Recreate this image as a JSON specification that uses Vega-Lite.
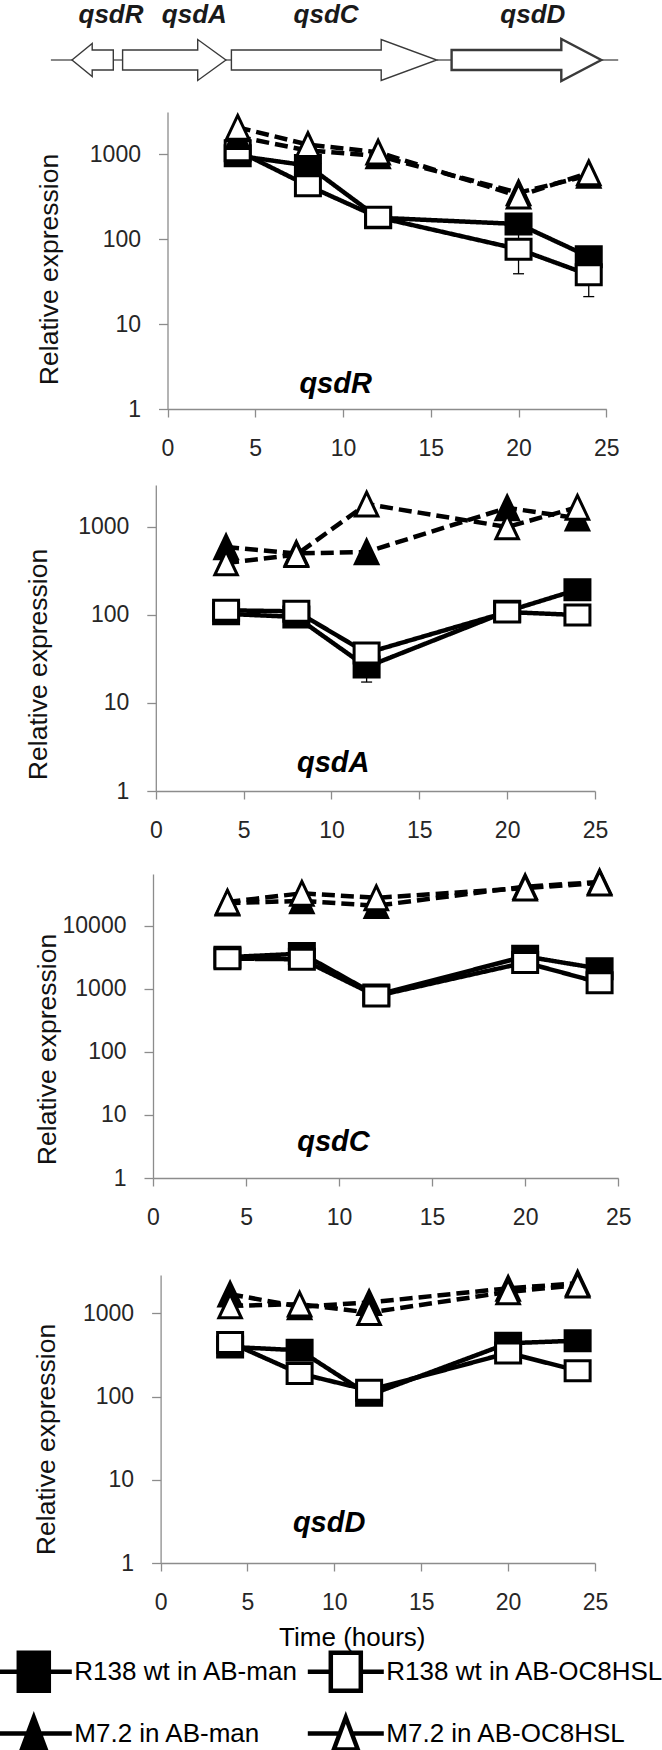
{
  "$schema": "https://vega.github.io/schema/vega-lite/v6.json",
  "padding": 0,
  "background": "white",
  "config": {
    "view": {"stroke": null},
    "axis": {"grid": false, "domainColor": "#8c8c8c", "domainWidth": 1.3, "tickColor": "#8c8c8c", "tickWidth": 1.3, "labelColor": "#262626", "labelFont": "Liberation Sans", "titleFont": "Liberation Sans", "titleFontWeight": "normal", "titleColor": "#111111", "labelFlush": false, "labelOverlap": false},
    "axisX": {"tickSize": 8, "labelPadding": 20.8, "labelFontSize": 23},
    "axisY": {"tickSize": 9, "labelPadding": 18, "labelFontSize": 23, "titleFontSize": 26.5, "titlePadding": 0}
  },
  "datasets": {
    "spacers": [
      {"from": 50.6, "to": 71.7}, {"from": 113, "to": 122.3}, {"from": 225.6, "to": 231.1}, {"from": 436.5, "to": 451.3}, {"from": 601, "to": 617.9}
    ],
    "genes": [
      {"gene": "qsdR", "i": 0, "pos": 71.7, "lane": 0}, {"gene": "qsdR", "i": 1, "pos": 91.9, "lane": 16.5}, {"gene": "qsdR", "i": 2, "pos": 91.9, "lane": 10}, {"gene": "qsdR", "i": 3, "pos": 113, "lane": 10}, {"gene": "qsdR", "i": 4, "pos": 113, "lane": -10}, {"gene": "qsdR", "i": 5, "pos": 91.9, "lane": -10}, {"gene": "qsdR", "i": 6, "pos": 91.9, "lane": -16.5}, {"gene": "qsdR", "i": 7, "pos": 71.7, "lane": 0}, {"gene": "qsdR", "i": 8, "pos": 91.9, "lane": 16.5},
      {"gene": "qsdA", "i": 0, "pos": 122.3, "lane": 10}, {"gene": "qsdA", "i": 1, "pos": 197.4, "lane": 10}, {"gene": "qsdA", "i": 2, "pos": 197.4, "lane": 20.5}, {"gene": "qsdA", "i": 3, "pos": 225.6, "lane": 0}, {"gene": "qsdA", "i": 4, "pos": 197.4, "lane": -20.5}, {"gene": "qsdA", "i": 5, "pos": 197.4, "lane": -10}, {"gene": "qsdA", "i": 6, "pos": 122.3, "lane": -10}, {"gene": "qsdA", "i": 7, "pos": 122.3, "lane": 10}, {"gene": "qsdA", "i": 8, "pos": 197.4, "lane": 10},
      {"gene": "qsdC", "i": 0, "pos": 231.1, "lane": 10}, {"gene": "qsdC", "i": 1, "pos": 380.9, "lane": 10}, {"gene": "qsdC", "i": 2, "pos": 380.9, "lane": 20.5}, {"gene": "qsdC", "i": 3, "pos": 436.5, "lane": 0}, {"gene": "qsdC", "i": 4, "pos": 380.9, "lane": -20.5}, {"gene": "qsdC", "i": 5, "pos": 380.9, "lane": -10}, {"gene": "qsdC", "i": 6, "pos": 231.1, "lane": -10}, {"gene": "qsdC", "i": 7, "pos": 231.1, "lane": 10}, {"gene": "qsdC", "i": 8, "pos": 380.9, "lane": 10},
      {"gene": "qsdD", "i": 0, "pos": 451.3, "lane": 10}, {"gene": "qsdD", "i": 1, "pos": 561, "lane": 10}, {"gene": "qsdD", "i": 2, "pos": 561, "lane": 21}, {"gene": "qsdD", "i": 3, "pos": 601, "lane": 0}, {"gene": "qsdD", "i": 4, "pos": 561, "lane": -21}, {"gene": "qsdD", "i": 5, "pos": 561, "lane": -10}, {"gene": "qsdD", "i": 6, "pos": 451.3, "lane": -10}, {"gene": "qsdD", "i": 7, "pos": 451.3, "lane": 10}, {"gene": "qsdD", "i": 8, "pos": 561, "lane": 10}
    ],
    "genelabels": [
      {"gene": "qsdR", "pos": 110.7, "lane": 37}, {"gene": "qsdA", "pos": 194, "lane": 37}, {"gene": "qsdC", "pos": 325.8, "lane": 37}, {"gene": "qsdD", "pos": 532.5, "lane": 37}
    ],
    "plabels": [
      {"panel": "qsdR", "gene": "qsdR", "time": 9.58, "value": 1.97},
      {"panel": "qsdA", "gene": "qsdA", "time": 10.1, "value": 2.08},
      {"panel": "qsdC", "gene": "qsdC", "time": 9.7, "value": 3.72},
      {"panel": "qsdD", "gene": "qsdD", "time": 9.7, "value": 3.0}
    ],
    "expr": [
      {"panel": "qsdR", "series": "R138 wt in AB-man", "strain": "R138 wt", "medium": "AB-man", "time": 4, "value": 955},
      {"panel": "qsdR", "series": "R138 wt in AB-man", "strain": "R138 wt", "medium": "AB-man", "time": 8, "value": 730},
      {"panel": "qsdR", "series": "R138 wt in AB-man", "strain": "R138 wt", "medium": "AB-man", "time": 12, "value": 178},
      {"panel": "qsdR", "series": "R138 wt in AB-man", "strain": "R138 wt", "medium": "AB-man", "time": 20, "value": 150},
      {"panel": "qsdR", "series": "R138 wt in AB-man", "strain": "R138 wt", "medium": "AB-man", "time": 24, "value": 62},
      {"panel": "qsdR", "series": "R138 wt in AB-OC8HSL", "strain": "R138 wt", "medium": "AB-OC8HSL", "time": 4, "value": 1090},
      {"panel": "qsdR", "series": "R138 wt in AB-OC8HSL", "strain": "R138 wt", "medium": "AB-OC8HSL", "time": 8, "value": 424},
      {"panel": "qsdR", "series": "R138 wt in AB-OC8HSL", "strain": "R138 wt", "medium": "AB-OC8HSL", "time": 12, "value": 180},
      {"panel": "qsdR", "series": "R138 wt in AB-OC8HSL", "strain": "R138 wt", "medium": "AB-OC8HSL", "time": 20, "value": 76, "lo": 39, "hi": 113},
      {"panel": "qsdR", "series": "R138 wt in AB-OC8HSL", "strain": "R138 wt", "medium": "AB-OC8HSL", "time": 24, "value": 38, "lo": 21, "hi": 55},
      {"panel": "qsdR", "series": "M7.2 in AB-man", "strain": "M7.2", "medium": "AB-man", "time": 4, "value": 1600},
      {"panel": "qsdR", "series": "M7.2 in AB-man", "strain": "M7.2", "medium": "AB-man", "time": 8, "value": 1100},
      {"panel": "qsdR", "series": "M7.2 in AB-man", "strain": "M7.2", "medium": "AB-man", "time": 12, "value": 950},
      {"panel": "qsdR", "series": "M7.2 in AB-man", "strain": "M7.2", "medium": "AB-man", "time": 20, "value": 350},
      {"panel": "qsdR", "series": "M7.2 in AB-man", "strain": "M7.2", "medium": "AB-man", "time": 24, "value": 560},
      {"panel": "qsdR", "series": "M7.2 in AB-OC8HSL", "strain": "M7.2", "medium": "AB-OC8HSL", "time": 4, "value": 2060},
      {"panel": "qsdR", "series": "M7.2 in AB-OC8HSL", "strain": "M7.2", "medium": "AB-OC8HSL", "time": 8, "value": 1290},
      {"panel": "qsdR", "series": "M7.2 in AB-OC8HSL", "strain": "M7.2", "medium": "AB-OC8HSL", "time": 12, "value": 1050},
      {"panel": "qsdR", "series": "M7.2 in AB-OC8HSL", "strain": "M7.2", "medium": "AB-OC8HSL", "time": 20, "value": 320},
      {"panel": "qsdR", "series": "M7.2 in AB-OC8HSL", "strain": "M7.2", "medium": "AB-OC8HSL", "time": 24, "value": 600},

      {"panel": "qsdA", "series": "R138 wt in AB-man", "strain": "R138 wt", "medium": "AB-man", "time": 4, "value": 103},
      {"panel": "qsdA", "series": "R138 wt in AB-man", "strain": "R138 wt", "medium": "AB-man", "time": 8, "value": 95},
      {"panel": "qsdA", "series": "R138 wt in AB-man", "strain": "R138 wt", "medium": "AB-man", "time": 12, "value": 25.7, "lo": 17.3, "hi": 34},
      {"panel": "qsdA", "series": "R138 wt in AB-man", "strain": "R138 wt", "medium": "AB-man", "time": 20, "value": 110},
      {"panel": "qsdA", "series": "R138 wt in AB-man", "strain": "R138 wt", "medium": "AB-man", "time": 24, "value": 194},
      {"panel": "qsdA", "series": "R138 wt in AB-OC8HSL", "strain": "R138 wt", "medium": "AB-OC8HSL", "time": 4, "value": 113},
      {"panel": "qsdA", "series": "R138 wt in AB-OC8HSL", "strain": "R138 wt", "medium": "AB-OC8HSL", "time": 8, "value": 110},
      {"panel": "qsdA", "series": "R138 wt in AB-OC8HSL", "strain": "R138 wt", "medium": "AB-OC8HSL", "time": 12, "value": 37},
      {"panel": "qsdA", "series": "R138 wt in AB-OC8HSL", "strain": "R138 wt", "medium": "AB-OC8HSL", "time": 20, "value": 108},
      {"panel": "qsdA", "series": "R138 wt in AB-OC8HSL", "strain": "R138 wt", "medium": "AB-OC8HSL", "time": 24, "value": 100},
      {"panel": "qsdA", "series": "M7.2 in AB-man", "strain": "M7.2", "medium": "AB-man", "time": 4, "value": 593},
      {"panel": "qsdA", "series": "M7.2 in AB-man", "strain": "M7.2", "medium": "AB-man", "time": 8, "value": 500},
      {"panel": "qsdA", "series": "M7.2 in AB-man", "strain": "M7.2", "medium": "AB-man", "time": 12, "value": 520},
      {"panel": "qsdA", "series": "M7.2 in AB-man", "strain": "M7.2", "medium": "AB-man", "time": 20, "value": 1650},
      {"panel": "qsdA", "series": "M7.2 in AB-man", "strain": "M7.2", "medium": "AB-man", "time": 24, "value": 1260},
      {"panel": "qsdA", "series": "M7.2 in AB-OC8HSL", "strain": "M7.2", "medium": "AB-OC8HSL", "time": 4, "value": 390},
      {"panel": "qsdA", "series": "M7.2 in AB-OC8HSL", "strain": "M7.2", "medium": "AB-OC8HSL", "time": 8, "value": 484},
      {"panel": "qsdA", "series": "M7.2 in AB-OC8HSL", "strain": "M7.2", "medium": "AB-OC8HSL", "time": 12, "value": 1820},
      {"panel": "qsdA", "series": "M7.2 in AB-OC8HSL", "strain": "M7.2", "medium": "AB-OC8HSL", "time": 20, "value": 1000},
      {"panel": "qsdA", "series": "M7.2 in AB-OC8HSL", "strain": "M7.2", "medium": "AB-OC8HSL", "time": 24, "value": 1675},

      {"panel": "qsdC", "series": "R138 wt in AB-man", "strain": "R138 wt", "medium": "AB-man", "time": 4, "value": 3200},
      {"panel": "qsdC", "series": "R138 wt in AB-man", "strain": "R138 wt", "medium": "AB-man", "time": 8, "value": 3640},
      {"panel": "qsdC", "series": "R138 wt in AB-man", "strain": "R138 wt", "medium": "AB-man", "time": 12, "value": 800},
      {"panel": "qsdC", "series": "R138 wt in AB-man", "strain": "R138 wt", "medium": "AB-man", "time": 20, "value": 3300},
      {"panel": "qsdC", "series": "R138 wt in AB-man", "strain": "R138 wt", "medium": "AB-man", "time": 24, "value": 2100},
      {"panel": "qsdC", "series": "R138 wt in AB-OC8HSL", "strain": "R138 wt", "medium": "AB-OC8HSL", "time": 4, "value": 3030},
      {"panel": "qsdC", "series": "R138 wt in AB-OC8HSL", "strain": "R138 wt", "medium": "AB-OC8HSL", "time": 8, "value": 2960},
      {"panel": "qsdC", "series": "R138 wt in AB-OC8HSL", "strain": "R138 wt", "medium": "AB-OC8HSL", "time": 12, "value": 776},
      {"panel": "qsdC", "series": "R138 wt in AB-OC8HSL", "strain": "R138 wt", "medium": "AB-OC8HSL", "time": 20, "value": 2630},
      {"panel": "qsdC", "series": "R138 wt in AB-OC8HSL", "strain": "R138 wt", "medium": "AB-OC8HSL", "time": 24, "value": 1260},
      {"panel": "qsdC", "series": "M7.2 in AB-man", "strain": "M7.2", "medium": "AB-man", "time": 4, "value": 23000},
      {"panel": "qsdC", "series": "M7.2 in AB-man", "strain": "M7.2", "medium": "AB-man", "time": 8, "value": 25000},
      {"panel": "qsdC", "series": "M7.2 in AB-man", "strain": "M7.2", "medium": "AB-man", "time": 12, "value": 21000},
      {"panel": "qsdC", "series": "M7.2 in AB-man", "strain": "M7.2", "medium": "AB-man", "time": 20, "value": 42000},
      {"panel": "qsdC", "series": "M7.2 in AB-man", "strain": "M7.2", "medium": "AB-man", "time": 24, "value": 50000},
      {"panel": "qsdC", "series": "M7.2 in AB-OC8HSL", "strain": "M7.2", "medium": "AB-OC8HSL", "time": 4, "value": 24000},
      {"panel": "qsdC", "series": "M7.2 in AB-OC8HSL", "strain": "M7.2", "medium": "AB-OC8HSL", "time": 8, "value": 33000},
      {"panel": "qsdC", "series": "M7.2 in AB-OC8HSL", "strain": "M7.2", "medium": "AB-OC8HSL", "time": 12, "value": 28000},
      {"panel": "qsdC", "series": "M7.2 in AB-OC8HSL", "strain": "M7.2", "medium": "AB-OC8HSL", "time": 20, "value": 40000},
      {"panel": "qsdC", "series": "M7.2 in AB-OC8HSL", "strain": "M7.2", "medium": "AB-OC8HSL", "time": 24, "value": 48000},

      {"panel": "qsdD", "series": "R138 wt in AB-man", "strain": "R138 wt", "medium": "AB-man", "time": 4, "value": 395},
      {"panel": "qsdD", "series": "R138 wt in AB-man", "strain": "R138 wt", "medium": "AB-man", "time": 8, "value": 360},
      {"panel": "qsdD", "series": "R138 wt in AB-man", "strain": "R138 wt", "medium": "AB-man", "time": 12, "value": 104},
      {"panel": "qsdD", "series": "R138 wt in AB-man", "strain": "R138 wt", "medium": "AB-man", "time": 20, "value": 437},
      {"panel": "qsdD", "series": "R138 wt in AB-man", "strain": "R138 wt", "medium": "AB-man", "time": 24, "value": 470},
      {"panel": "qsdD", "series": "R138 wt in AB-OC8HSL", "strain": "R138 wt", "medium": "AB-OC8HSL", "time": 4, "value": 446},
      {"panel": "qsdD", "series": "R138 wt in AB-OC8HSL", "strain": "R138 wt", "medium": "AB-OC8HSL", "time": 8, "value": 189},
      {"panel": "qsdD", "series": "R138 wt in AB-OC8HSL", "strain": "R138 wt", "medium": "AB-OC8HSL", "time": 12, "value": 119},
      {"panel": "qsdD", "series": "R138 wt in AB-OC8HSL", "strain": "R138 wt", "medium": "AB-OC8HSL", "time": 20, "value": 334},
      {"panel": "qsdD", "series": "R138 wt in AB-OC8HSL", "strain": "R138 wt", "medium": "AB-OC8HSL", "time": 24, "value": 205},
      {"panel": "qsdD", "series": "M7.2 in AB-man", "strain": "M7.2", "medium": "AB-man", "time": 4, "value": 1700},
      {"panel": "qsdD", "series": "M7.2 in AB-man", "strain": "M7.2", "medium": "AB-man", "time": 8, "value": 1200},
      {"panel": "qsdD", "series": "M7.2 in AB-man", "strain": "M7.2", "medium": "AB-man", "time": 12, "value": 1350},
      {"panel": "qsdD", "series": "M7.2 in AB-man", "strain": "M7.2", "medium": "AB-man", "time": 20, "value": 2000},
      {"panel": "qsdD", "series": "M7.2 in AB-man", "strain": "M7.2", "medium": "AB-man", "time": 24, "value": 2300},
      {"panel": "qsdD", "series": "M7.2 in AB-OC8HSL", "strain": "M7.2", "medium": "AB-OC8HSL", "time": 4, "value": 1230},
      {"panel": "qsdD", "series": "M7.2 in AB-OC8HSL", "strain": "M7.2", "medium": "AB-OC8HSL", "time": 8, "value": 1290},
      {"panel": "qsdD", "series": "M7.2 in AB-OC8HSL", "strain": "M7.2", "medium": "AB-OC8HSL", "time": 12, "value": 1020},
      {"panel": "qsdD", "series": "M7.2 in AB-OC8HSL", "strain": "M7.2", "medium": "AB-OC8HSL", "time": 20, "value": 1810},
      {"panel": "qsdD", "series": "M7.2 in AB-OC8HSL", "strain": "M7.2", "medium": "AB-OC8HSL", "time": 24, "value": 2180}
    ]
  },
  "spacing": 35,
  "vconcat": [
    {
      "spacing": 21,
      "vconcat": [
        {
          "spacing": 24,
          "vconcat": [
            {
              "spacing": 9,
              "vconcat": [
                {
                  "width": 465,
                  "height": 100,
                  "layer": [
                    {
                      "data": {"name": "spacers"},
                      "mark": {"type": "rule", "color": "#555555", "strokeWidth": 1.4},
                      "encoding": {
                        "x": {"field": "from", "type": "quantitative", "scale": {"domain": [152.7, 617.7], "nice": false, "zero": false}, "axis": null},
                        "x2": {"field": "to"},
                        "y": {"datum": 0, "type": "quantitative", "scale": {"domain": [-40, 60], "nice": false, "zero": false}, "axis": null}
                      }
                    },
                    {
                      "data": {"name": "genes"},
                      "mark": {"type": "line", "color": "#3a3a3a", "strokeJoin": "miter"},
                      "encoding": {
                        "x": {"field": "pos", "type": "quantitative"},
                        "y": {"field": "lane", "type": "quantitative"},
                        "detail": {"field": "gene"},
                        "order": {"field": "i"},
                        "strokeWidth": {"condition": {"test": "datum.gene === 'qsdD'", "value": 2.4}, "value": 1.4}
                      }
                    },
                    {
                      "data": {"name": "genelabels"},
                      "mark": {"type": "text", "font": "Liberation Sans", "fontSize": 26, "fontStyle": "italic", "fontWeight": "bold", "baseline": "alphabetic", "align": "center", "color": "#1a1a1a"},
                      "encoding": {
                        "x": {"field": "pos", "type": "quantitative"},
                        "y": {"field": "lane", "type": "quantitative"},
                        "text": {"field": "gene"}
                      }
                    }
                  ]
                },
                {
                  "width": 454,
                  "height": 297,
                  "layer": [
                    {
                      "data": {"name": "expr"},
                      "transform": [{"filter": "datum.panel === 'qsdR'"}],
                      "mark": {"type": "line", "strokeWidth": 4.5, "color": "black"},
                      "encoding": {
                        "x": {"field": "time", "type": "quantitative", "scale": {"domain": [0, 25], "range": [14.5, 453.3], "nice": false, "zero": false}, "axis": {"values": [0, 5, 10, 15, 20, 25], "title": null}},
                        "y": {"field": "value", "type": "quantitative", "scale": {"type": "log", "domain": [1, 3120], "nice": false}, "axis": {"values": [1, 10, 100, 1000], "format": "d", "title": "Relative expression", "offset": -14.5, "minExtent": 104, "maxExtent": 104, "titleY": 157}},
                        "detail": {"field": "series"},
                        "strokeDash": {"field": "strain", "type": "nominal", "scale": {"domain": ["R138 wt", "M7.2"], "range": [[1, 0], [13, 6]]}, "legend": null}
                      }
                    },
                    {
                      "data": {"name": "expr"},
                      "transform": [{"filter": "datum.panel === 'qsdR' && isValid(datum.lo)"}],
                      "mark": {"type": "rule", "strokeWidth": 1.3, "color": "black"},
                      "encoding": {
                        "x": {"field": "time", "type": "quantitative"},
                        "y": {"field": "lo", "type": "quantitative"},
                        "y2": {"field": "hi"}
                      }
                    },
                    {
                      "data": {"name": "expr"},
                      "transform": [{"filter": "datum.panel === 'qsdR' && isValid(datum.lo)"}],
                      "mark": {"type": "tick", "orient": "horizontal", "size": 11, "thickness": 1.3, "color": "black", "opacity": 1},
                      "encoding": {
                        "x": {"field": "time", "type": "quantitative"},
                        "y": {"field": "lo", "type": "quantitative"}
                      }
                    },
                    {
                      "data": {"name": "expr"},
                      "transform": [{"filter": "datum.panel === 'qsdR' && datum.strain === 'R138 wt'"}],
                      "mark": {"type": "point", "shape": "M-1,-0.8H1V0.8H-1Z", "filled": true, "stroke": "black", "strokeWidth": 3, "opacity": 1, "size": 625},
                      "encoding": {
                        "x": {"field": "time", "type": "quantitative"},
                        "y": {"field": "value", "type": "quantitative"},
                        "color": {"field": "medium", "type": "nominal", "scale": {"domain": ["AB-man", "AB-OC8HSL"], "range": ["black", "white"]}, "legend": null}
                      }
                    },
                    {
                      "data": {"name": "expr"},
                      "transform": [{"filter": "datum.panel === 'qsdR' && datum.strain === 'M7.2'"}],
                      "mark": {"type": "point", "shape": "M0,-0.95L0.9,0.95H-0.9Z", "filled": true, "stroke": "black", "strokeWidth": 3, "opacity": 1, "size": 625},
                      "encoding": {
                        "x": {"field": "time", "type": "quantitative"},
                        "y": {"field": "value", "type": "quantitative"},
                        "color": {"field": "medium", "type": "nominal", "scale": {"domain": ["AB-man", "AB-OC8HSL"], "range": ["black", "white"]}, "legend": null}
                      }
                    },
                    {
                      "data": {"name": "expr"},
                      "transform": [{"filter": "datum.panel === 'qsdR'"}],
                      "mark": {"type": "point", "filled": true, "opacity": 0, "size": 40},
                      "encoding": {
                        "x": {"field": "time", "type": "quantitative"},
                        "y": {"field": "value", "type": "quantitative"},
                        "shape": {"field": "series", "type": "nominal", "scale": {"domain": ["R138 wt in AB-man", "R138 wt in AB-OC8HSL", "M7.2 in AB-man", "M7.2 in AB-OC8HSL"], "range": ["M-1.9,0H-0.75M0.75,0H1.9M-0.75,-0.95H0.75V0.95H-0.75Z", "M-1.9,0H-0.75M0.75,0H1.9M-0.75,-0.95H0.75V0.95H-0.75Z", "M-1.9,0H-0.3M0.3,0H1.9M0,-0.8L0.6,0.8H-0.6Z", "M-1.9,0H-0.3M0.3,0H1.9M0,-0.8L0.6,0.8H-0.6Z"]},
                          "legend": {"orient": "none", "legendX": -152.7, "legendY": 1649, "direction": "horizontal", "title": null, "columns": 2, "symbolSize": 1600, "symbolOffset": 11, "symbolStrokeWidth": 4.5, "symbolOpacity": 1, "labelFont": "Liberation Sans", "labelFontSize": 26, "labelColor": "black", "labelLimit": 500, "labelOffset": 18, "rowPadding": 8, "columnPadding": 0, "padding": 0}},
                        "fill": {"field": "series", "type": "nominal", "scale": {"domain": ["R138 wt in AB-man", "R138 wt in AB-OC8HSL", "M7.2 in AB-man", "M7.2 in AB-OC8HSL"], "range": ["black", "white", "black", "white"]},
                          "legend": {"orient": "none", "legendX": -152.7, "legendY": 1649, "direction": "horizontal", "title": null, "columns": 2, "symbolSize": 1600, "symbolOffset": 11, "symbolStrokeWidth": 4.5, "symbolOpacity": 1, "labelFont": "Liberation Sans", "labelFontSize": 26, "labelColor": "black", "labelLimit": 500, "labelOffset": 18, "rowPadding": 8, "columnPadding": 0, "padding": 0}},
                        "stroke": {"field": "series", "type": "nominal", "scale": {"domain": ["R138 wt in AB-man", "R138 wt in AB-OC8HSL", "M7.2 in AB-man", "M7.2 in AB-OC8HSL"], "range": ["black", "black", "black", "black"]},
                          "legend": {"orient": "none", "legendX": -152.7, "legendY": 1649, "direction": "horizontal", "title": null, "columns": 2, "symbolSize": 1600, "symbolOffset": 11, "symbolStrokeWidth": 4.5, "symbolOpacity": 1, "labelFont": "Liberation Sans", "labelFontSize": 26, "labelColor": "black", "labelLimit": 500, "labelOffset": 18, "rowPadding": 8, "columnPadding": 0, "padding": 0}}
                      }
                    },
                    {
                      "data": {"name": "plabels"},
                      "transform": [{"filter": "datum.panel === 'qsdR'"}],
                      "mark": {"type": "text", "font": "Liberation Sans", "fontSize": 29, "fontStyle": "italic", "fontWeight": "bold", "color": "black"},
                      "encoding": {
                        "x": {"field": "time", "type": "quantitative"},
                        "y": {"field": "value", "type": "quantitative"},
                        "text": {"field": "gene"}
                      }
                    }
                  ]
                }
              ]
            },
            {
              "width": 442,
              "height": 306,
              "layer": [
                {
                  "data": {"name": "expr"},
                  "transform": [{"filter": "datum.panel === 'qsdA'"}],
                  "mark": {"type": "line", "strokeWidth": 4.5, "color": "black"},
                  "encoding": {
                    "x": {"field": "time", "type": "quantitative", "scale": {"domain": [0, 25], "range": [2.8, 442], "nice": false, "zero": false}, "axis": {"values": [0, 5, 10, 15, 20, 25], "title": null}},
                    "y": {"field": "value", "type": "quantitative", "scale": {"type": "log", "domain": [1, 3000], "nice": false}, "axis": {"values": [1, 10, 100, 1000], "format": "d", "title": "Relative expression", "offset": -2.8, "minExtent": 103, "maxExtent": 103, "titleY": 179}},
                    "detail": {"field": "series"},
                    "strokeDash": {"field": "strain", "type": "nominal", "scale": {"domain": ["R138 wt", "M7.2"], "range": [[1, 0], [13, 6]]}, "legend": null}
                  }
                },
                {
                  "data": {"name": "expr"},
                  "transform": [{"filter": "datum.panel === 'qsdA' && isValid(datum.lo)"}],
                  "mark": {"type": "rule", "strokeWidth": 1.3, "color": "black"},
                  "encoding": {
                    "x": {"field": "time", "type": "quantitative"},
                    "y": {"field": "lo", "type": "quantitative"},
                    "y2": {"field": "hi"}
                  }
                },
                {
                  "data": {"name": "expr"},
                  "transform": [{"filter": "datum.panel === 'qsdA' && isValid(datum.lo)"}],
                  "mark": {"type": "tick", "orient": "horizontal", "size": 11, "thickness": 1.3, "color": "black", "opacity": 1},
                  "encoding": {
                    "x": {"field": "time", "type": "quantitative"},
                    "y": {"field": "lo", "type": "quantitative"}
                  }
                },
                {
                  "data": {"name": "expr"},
                  "transform": [{"filter": "datum.panel === 'qsdA' && datum.strain === 'R138 wt'"}],
                  "mark": {"type": "point", "shape": "M-1,-0.8H1V0.8H-1Z", "filled": true, "stroke": "black", "strokeWidth": 3, "opacity": 1, "size": 625},
                  "encoding": {
                    "x": {"field": "time", "type": "quantitative"},
                    "y": {"field": "value", "type": "quantitative"},
                    "color": {"field": "medium", "type": "nominal", "scale": {"domain": ["AB-man", "AB-OC8HSL"], "range": ["black", "white"]}, "legend": null}
                  }
                },
                {
                  "data": {"name": "expr"},
                  "transform": [{"filter": "datum.panel === 'qsdA' && datum.strain === 'M7.2'"}],
                  "mark": {"type": "point", "shape": "M0,-0.95L0.9,0.95H-0.9Z", "filled": true, "stroke": "black", "strokeWidth": 3, "opacity": 1, "size": 625},
                  "encoding": {
                    "x": {"field": "time", "type": "quantitative"},
                    "y": {"field": "value", "type": "quantitative"},
                    "color": {"field": "medium", "type": "nominal", "scale": {"domain": ["AB-man", "AB-OC8HSL"], "range": ["black", "white"]}, "legend": null}
                  }
                },
                {
                  "data": {"name": "expr"},
                  "transform": [{"filter": "datum.panel === 'qsdA'"}],
                  "mark": {"type": "point", "filled": true, "opacity": 0, "size": 40},
                  "encoding": {
                    "x": {"field": "time", "type": "quantitative"},
                    "y": {"field": "value", "type": "quantitative"},
                    "shape": {"field": "series", "type": "nominal", "scale": {"domain": ["R138 wt in AB-man", "R138 wt in AB-OC8HSL", "M7.2 in AB-man", "M7.2 in AB-OC8HSL"], "range": ["M-1.9,0H-0.75M0.75,0H1.9M-0.75,-0.95H0.75V0.95H-0.75Z", "M-1.9,0H-0.75M0.75,0H1.9M-0.75,-0.95H0.75V0.95H-0.75Z", "M-1.9,0H-0.3M0.3,0H1.9M0,-0.8L0.6,0.8H-0.6Z", "M-1.9,0H-0.3M0.3,0H1.9M0,-0.8L0.6,0.8H-0.6Z"]},
                      "legend": {"orient": "none", "legendX": -152.7, "legendY": 1649, "direction": "horizontal", "title": null, "columns": 2, "symbolSize": 1600, "symbolOffset": 11, "symbolStrokeWidth": 4.5, "symbolOpacity": 1, "labelFont": "Liberation Sans", "labelFontSize": 26, "labelColor": "black", "labelLimit": 500, "labelOffset": 18, "rowPadding": 8, "columnPadding": 0, "padding": 0}},
                    "fill": {"field": "series", "type": "nominal", "scale": {"domain": ["R138 wt in AB-man", "R138 wt in AB-OC8HSL", "M7.2 in AB-man", "M7.2 in AB-OC8HSL"], "range": ["black", "white", "black", "white"]},
                      "legend": {"orient": "none", "legendX": -152.7, "legendY": 1649, "direction": "horizontal", "title": null, "columns": 2, "symbolSize": 1600, "symbolOffset": 11, "symbolStrokeWidth": 4.5, "symbolOpacity": 1, "labelFont": "Liberation Sans", "labelFontSize": 26, "labelColor": "black", "labelLimit": 500, "labelOffset": 18, "rowPadding": 8, "columnPadding": 0, "padding": 0}},
                    "stroke": {"field": "series", "type": "nominal", "scale": {"domain": ["R138 wt in AB-man", "R138 wt in AB-OC8HSL", "M7.2 in AB-man", "M7.2 in AB-OC8HSL"], "range": ["black", "black", "black", "black"]},
                      "legend": {"orient": "none", "legendX": -152.7, "legendY": 1649, "direction": "horizontal", "title": null, "columns": 2, "symbolSize": 1600, "symbolOffset": 11, "symbolStrokeWidth": 4.5, "symbolOpacity": 1, "labelFont": "Liberation Sans", "labelFontSize": 26, "labelColor": "black", "labelLimit": 500, "labelOffset": 18, "rowPadding": 8, "columnPadding": 0, "padding": 0}}
                  }
                },
                {
                  "data": {"name": "plabels"},
                  "transform": [{"filter": "datum.panel === 'qsdA'"}],
                  "mark": {"type": "text", "font": "Liberation Sans", "fontSize": 29, "fontStyle": "italic", "fontWeight": "bold", "color": "black"},
                  "encoding": {
                    "x": {"field": "time", "type": "quantitative"},
                    "y": {"field": "value", "type": "quantitative"},
                    "text": {"field": "gene"}
                  }
                }
              ]
            }
          ]
        },
        {
          "width": 465,
          "height": 304,
          "layer": [
            {
              "data": {"name": "expr"},
              "transform": [{"filter": "datum.panel === 'qsdC'"}],
              "mark": {"type": "line", "strokeWidth": 4.5, "color": "black"},
              "encoding": {
                "x": {"field": "time", "type": "quantitative", "scale": {"domain": [0, 25], "range": [0, 465.2], "nice": false, "zero": false}, "axis": {"values": [0, 5, 10, 15, 20, 25], "title": null}},
                "y": {"field": "value", "type": "quantitative", "scale": {"type": "log", "domain": [1, 66800], "nice": false}, "axis": {"values": [1, 10, 100, 1000, 10000], "format": "d", "title": "Relative expression", "offset": 0, "minExtent": 92, "maxExtent": 92, "titleY": 175}},
                "detail": {"field": "series"},
                "strokeDash": {"field": "strain", "type": "nominal", "scale": {"domain": ["R138 wt", "M7.2"], "range": [[1, 0], [13, 6]]}, "legend": null}
              }
            },
            {
              "data": {"name": "expr"},
              "transform": [{"filter": "datum.panel === 'qsdC' && datum.strain === 'R138 wt'"}],
              "mark": {"type": "point", "shape": "M-1,-0.8H1V0.8H-1Z", "filled": true, "stroke": "black", "strokeWidth": 3, "opacity": 1, "size": 625},
              "encoding": {
                "x": {"field": "time", "type": "quantitative"},
                "y": {"field": "value", "type": "quantitative"},
                "color": {"field": "medium", "type": "nominal", "scale": {"domain": ["AB-man", "AB-OC8HSL"], "range": ["black", "white"]}, "legend": null}
              }
            },
            {
              "data": {"name": "expr"},
              "transform": [{"filter": "datum.panel === 'qsdC' && datum.strain === 'M7.2'"}],
              "mark": {"type": "point", "shape": "M0,-0.95L0.9,0.95H-0.9Z", "filled": true, "stroke": "black", "strokeWidth": 3, "opacity": 1, "size": 625},
              "encoding": {
                "x": {"field": "time", "type": "quantitative"},
                "y": {"field": "value", "type": "quantitative"},
                "color": {"field": "medium", "type": "nominal", "scale": {"domain": ["AB-man", "AB-OC8HSL"], "range": ["black", "white"]}, "legend": null}
              }
            },
            {
              "data": {"name": "expr"},
              "transform": [{"filter": "datum.panel === 'qsdC'"}],
              "mark": {"type": "point", "filled": true, "opacity": 0, "size": 40},
              "encoding": {
                "x": {"field": "time", "type": "quantitative"},
                "y": {"field": "value", "type": "quantitative"},
                "shape": {"field": "series", "type": "nominal", "scale": {"domain": ["R138 wt in AB-man", "R138 wt in AB-OC8HSL", "M7.2 in AB-man", "M7.2 in AB-OC8HSL"], "range": ["M-1.9,0H-0.75M0.75,0H1.9M-0.75,-0.95H0.75V0.95H-0.75Z", "M-1.9,0H-0.75M0.75,0H1.9M-0.75,-0.95H0.75V0.95H-0.75Z", "M-1.9,0H-0.3M0.3,0H1.9M0,-0.8L0.6,0.8H-0.6Z", "M-1.9,0H-0.3M0.3,0H1.9M0,-0.8L0.6,0.8H-0.6Z"]},
                  "legend": {"orient": "none", "legendX": -152.7, "legendY": 1649, "direction": "horizontal", "title": null, "columns": 2, "symbolSize": 1600, "symbolOffset": 11, "symbolStrokeWidth": 4.5, "symbolOpacity": 1, "labelFont": "Liberation Sans", "labelFontSize": 26, "labelColor": "black", "labelLimit": 500, "labelOffset": 18, "rowPadding": 8, "columnPadding": 0, "padding": 0}},
                "fill": {"field": "series", "type": "nominal", "scale": {"domain": ["R138 wt in AB-man", "R138 wt in AB-OC8HSL", "M7.2 in AB-man", "M7.2 in AB-OC8HSL"], "range": ["black", "white", "black", "white"]},
                  "legend": {"orient": "none", "legendX": -152.7, "legendY": 1649, "direction": "horizontal", "title": null, "columns": 2, "symbolSize": 1600, "symbolOffset": 11, "symbolStrokeWidth": 4.5, "symbolOpacity": 1, "labelFont": "Liberation Sans", "labelFontSize": 26, "labelColor": "black", "labelLimit": 500, "labelOffset": 18, "rowPadding": 8, "columnPadding": 0, "padding": 0}},
                "stroke": {"field": "series", "type": "nominal", "scale": {"domain": ["R138 wt in AB-man", "R138 wt in AB-OC8HSL", "M7.2 in AB-man", "M7.2 in AB-OC8HSL"], "range": ["black", "black", "black", "black"]},
                  "legend": {"orient": "none", "legendX": -152.7, "legendY": 1649, "direction": "horizontal", "title": null, "columns": 2, "symbolSize": 1600, "symbolOffset": 11, "symbolStrokeWidth": 4.5, "symbolOpacity": 1, "labelFont": "Liberation Sans", "labelFontSize": 26, "labelColor": "black", "labelLimit": 500, "labelOffset": 18, "rowPadding": 8, "columnPadding": 0, "padding": 0}}
              }
            },
            {
              "data": {"name": "plabels"},
              "transform": [{"filter": "datum.panel === 'qsdC'"}],
              "mark": {"type": "text", "font": "Liberation Sans", "fontSize": 29, "fontStyle": "italic", "fontWeight": "bold", "color": "black"},
              "encoding": {
                "x": {"field": "time", "type": "quantitative"},
                "y": {"field": "value", "type": "quantitative"},
                "text": {"field": "gene"}
              }
            }
          ]
        }
      ]
    },
    {
      "width": 442,
      "height": 288,
      "layer": [
        {
          "data": {"name": "expr"},
          "transform": [{"filter": "datum.panel === 'qsdD'"}],
          "mark": {"type": "line", "strokeWidth": 4.5, "color": "black"},
          "encoding": {
            "x": {"field": "time", "type": "quantitative", "scale": {"domain": [0, 25], "range": [7.6, 442], "nice": false, "zero": false}, "axis": {"values": [0, 5, 10, 15, 20, 25], "title": "Time (hours)", "titleFont": "Liberation Sans", "titleFontSize": 26, "titleFontWeight": "normal", "titlePadding": 10, "titleX": 198.8, "titleColor": "black"}},
            "y": {"field": "value", "type": "quantitative", "scale": {"type": "log", "domain": [1, 2890], "nice": false}, "axis": {"values": [1, 10, 100, 1000], "format": "d", "title": "Relative expression", "offset": -7.6, "minExtent": 100, "maxExtent": 100, "titleY": 164}},
            "detail": {"field": "series"},
            "strokeDash": {"field": "strain", "type": "nominal", "scale": {"domain": ["R138 wt", "M7.2"], "range": [[1, 0], [13, 6]]}, "legend": null}
          }
        },
        {
          "data": {"name": "expr"},
          "transform": [{"filter": "datum.panel === 'qsdD' && datum.strain === 'R138 wt'"}],
          "mark": {"type": "point", "shape": "M-1,-0.8H1V0.8H-1Z", "filled": true, "stroke": "black", "strokeWidth": 3, "opacity": 1, "size": 625},
          "encoding": {
            "x": {"field": "time", "type": "quantitative"},
            "y": {"field": "value", "type": "quantitative"},
            "color": {"field": "medium", "type": "nominal", "scale": {"domain": ["AB-man", "AB-OC8HSL"], "range": ["black", "white"]}, "legend": null}
          }
        },
        {
          "data": {"name": "expr"},
          "transform": [{"filter": "datum.panel === 'qsdD' && datum.strain === 'M7.2'"}],
          "mark": {"type": "point", "shape": "M0,-0.95L0.9,0.95H-0.9Z", "filled": true, "stroke": "black", "strokeWidth": 3, "opacity": 1, "size": 625},
          "encoding": {
            "x": {"field": "time", "type": "quantitative"},
            "y": {"field": "value", "type": "quantitative"},
            "color": {"field": "medium", "type": "nominal", "scale": {"domain": ["AB-man", "AB-OC8HSL"], "range": ["black", "white"]}, "legend": null}
          }
        },
        {
          "data": {"name": "expr"},
          "transform": [{"filter": "datum.panel === 'qsdD'"}],
          "mark": {"type": "point", "filled": true, "opacity": 0, "size": 40},
          "encoding": {
            "x": {"field": "time", "type": "quantitative"},
            "y": {"field": "value", "type": "quantitative"},
            "shape": {"field": "series", "type": "nominal", "scale": {"domain": ["R138 wt in AB-man", "R138 wt in AB-OC8HSL", "M7.2 in AB-man", "M7.2 in AB-OC8HSL"], "range": ["M-1.9,0H-0.75M0.75,0H1.9M-0.75,-0.95H0.75V0.95H-0.75Z", "M-1.9,0H-0.75M0.75,0H1.9M-0.75,-0.95H0.75V0.95H-0.75Z", "M-1.9,0H-0.3M0.3,0H1.9M0,-0.8L0.6,0.8H-0.6Z", "M-1.9,0H-0.3M0.3,0H1.9M0,-0.8L0.6,0.8H-0.6Z"]},
              "legend": {"orient": "none", "legendX": -152.7, "legendY": 1649, "direction": "horizontal", "title": null, "columns": 2, "symbolSize": 1600, "symbolOffset": 11, "symbolStrokeWidth": 4.5, "symbolOpacity": 1, "labelFont": "Liberation Sans", "labelFontSize": 26, "labelColor": "black", "labelLimit": 500, "labelOffset": 18, "rowPadding": 8, "columnPadding": 0, "padding": 0}},
            "fill": {"field": "series", "type": "nominal", "scale": {"domain": ["R138 wt in AB-man", "R138 wt in AB-OC8HSL", "M7.2 in AB-man", "M7.2 in AB-OC8HSL"], "range": ["black", "white", "black", "white"]},
              "legend": {"orient": "none", "legendX": -152.7, "legendY": 1649, "direction": "horizontal", "title": null, "columns": 2, "symbolSize": 1600, "symbolOffset": 11, "symbolStrokeWidth": 4.5, "symbolOpacity": 1, "labelFont": "Liberation Sans", "labelFontSize": 26, "labelColor": "black", "labelLimit": 500, "labelOffset": 18, "rowPadding": 8, "columnPadding": 0, "padding": 0}},
            "stroke": {"field": "series", "type": "nominal", "scale": {"domain": ["R138 wt in AB-man", "R138 wt in AB-OC8HSL", "M7.2 in AB-man", "M7.2 in AB-OC8HSL"], "range": ["black", "black", "black", "black"]},
              "legend": {"orient": "none", "legendX": -152.7, "legendY": 1649, "direction": "horizontal", "title": null, "columns": 2, "symbolSize": 1600, "symbolOffset": 11, "symbolStrokeWidth": 4.5, "symbolOpacity": 1, "labelFont": "Liberation Sans", "labelFontSize": 26, "labelColor": "black", "labelLimit": 500, "labelOffset": 18, "rowPadding": 8, "columnPadding": 0, "padding": 0}}
          }
        },
        {
          "data": {"name": "plabels"},
          "transform": [{"filter": "datum.panel === 'qsdD'"}],
          "mark": {"type": "text", "font": "Liberation Sans", "fontSize": 29, "fontStyle": "italic", "fontWeight": "bold", "color": "black"},
          "encoding": {
            "x": {"field": "time", "type": "quantitative"},
            "y": {"field": "value", "type": "quantitative"},
            "text": {"field": "gene"}
          }
        }
      ]
    }
  ]
}
